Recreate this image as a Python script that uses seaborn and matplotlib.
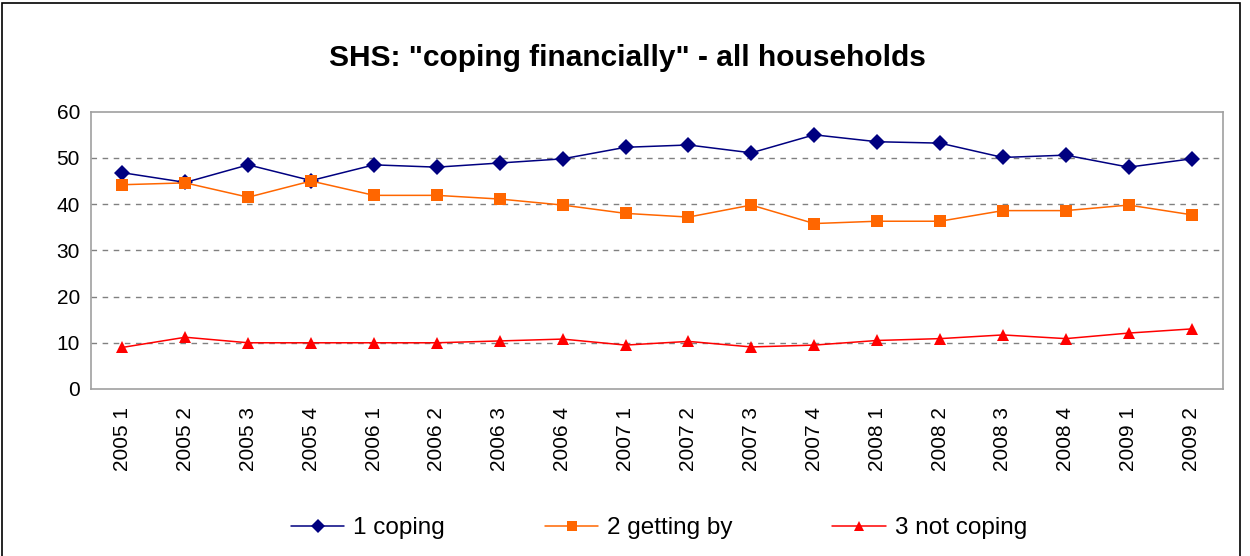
import matplotlib
matplotlib.use("Agg")
import matplotlib.pyplot as plt
import seaborn as sns
import pandas as pd
from matplotlib.patches import Rectangle

#%% data
quarters = ["2005 1", "2005 2", "2005 3", "2005 4",
            "2006 1", "2006 2", "2006 3", "2006 4",
            "2007 1", "2007 2", "2007 3", "2007 4",
            "2008 1", "2008 2", "2008 3", "2008 4",
            "2009 1", "2009 2"]
coping = [46.8, 44.7, 48.5, 45.1, 48.5, 48.0, 48.9, 49.8, 52.3,
          52.8, 51.1, 55.0, 53.5, 53.2, 50.1, 50.6, 48.0, 49.8]
getting_by = [44.2, 44.6, 41.5, 45.0, 41.9, 41.9, 41.1, 39.8, 38.0,
              37.2, 39.8, 35.8, 36.3, 36.3, 38.6, 38.6, 39.8, 37.7]
not_coping = [9.0, 11.2, 10.0, 10.0, 10.0, 10.0, 10.4, 10.8, 9.5,
              10.3, 9.1, 9.5, 10.5, 10.9, 11.7, 10.9, 12.1, 13.0]
series_names = ["1 coping", "2 getting by", "3 not coping"]

df = pd.DataFrame({"quarter": quarters,
                   series_names[0]: coping,
                   series_names[1]: getting_by,
                   series_names[2]: not_coping})
df = df.melt(id_vars="quarter", var_name="series", value_name="value")

#%% plot
sns.set_style("white")
plt.rcParams['font.family'] = ['Liberation Sans', 'DejaVu Sans']
plt.rcParams['text.color'] = 'black'
plt.rcParams['xtick.labelcolor'] = 'black'
plt.rcParams['ytick.labelcolor'] = 'black'

fig = plt.figure(figsize=(12.5, 5.56), dpi=100)
ax = fig.add_axes([91/1250, 1 - 389/556, (1223 - 91)/1250, (389 - 111.7)/556])

palette = {"1 coping": "#000080", "2 getting by": "#FF6600", "3 not coping": "#FF0000"}
markers = {"1 coping": "D", "2 getting by": "s", "3 not coping": "^"}
sns.lineplot(data=df, x="quarter", y="value", hue="series", style="series",
             hue_order=series_names, style_order=series_names,
             palette=palette, markers=markers, dashes=False,
             linewidth=1.1, markersize=8, markeredgewidth=0, ax=ax, sort=False)

ax.set_xlim(-0.5, len(quarters) - 0.5)
ax.set_ylim(0, 60)
ax.set_yticks(range(0, 61, 10))
ax.set_xticks(range(len(quarters)))
ax.set_xticklabels(quarters, rotation=90, fontsize=15)
ax.set_xticks([i - 0.5 for i in range(len(quarters) + 1)], minor=True)
ax.tick_params(axis='x', which='major', length=0, pad=13)
ax.tick_params(axis='x', which='minor', length=5, color='#808080', width=1, direction='out')
ax.tick_params(axis='y', length=5, color='#808080', width=1, direction='out', labelsize=15, pad=3)
ax.set_xlabel("")
ax.set_ylabel("")
for y in range(10, 51, 10):
    ax.axhline(y, color='#808080', linestyle=(0, (4, 4)), linewidth=1, zorder=0)
for s in ax.spines.values():
    s.set_color('#A0A0A0')
    s.set_linewidth(1.2)

ax.get_legend().remove()
handles, labels = ax.get_legend_handles_labels()
fig.legend(handles, labels, loc='center', bbox_to_anchor=(659/1250, 1 - 528/556),
           ncol=3, frameon=False, fontsize=17.5, handlelength=2.2,
           handletextpad=0.37, columnspacing=4.1, markerscale=0.85)

fig.text(627/1250, 1 - 58/556, 'SHS: "coping financially" - all households',
         ha='center', va='center', fontsize=21.5, fontweight='bold')

fig.patches.append(Rectangle((2/1250, -0.05), 1238/1250, 1.05 - 3/556,
                             transform=fig.transFigure, fill=False,
                             edgecolor='black', linewidth=1.2))

fig.savefig('out.png', dpi=100)
